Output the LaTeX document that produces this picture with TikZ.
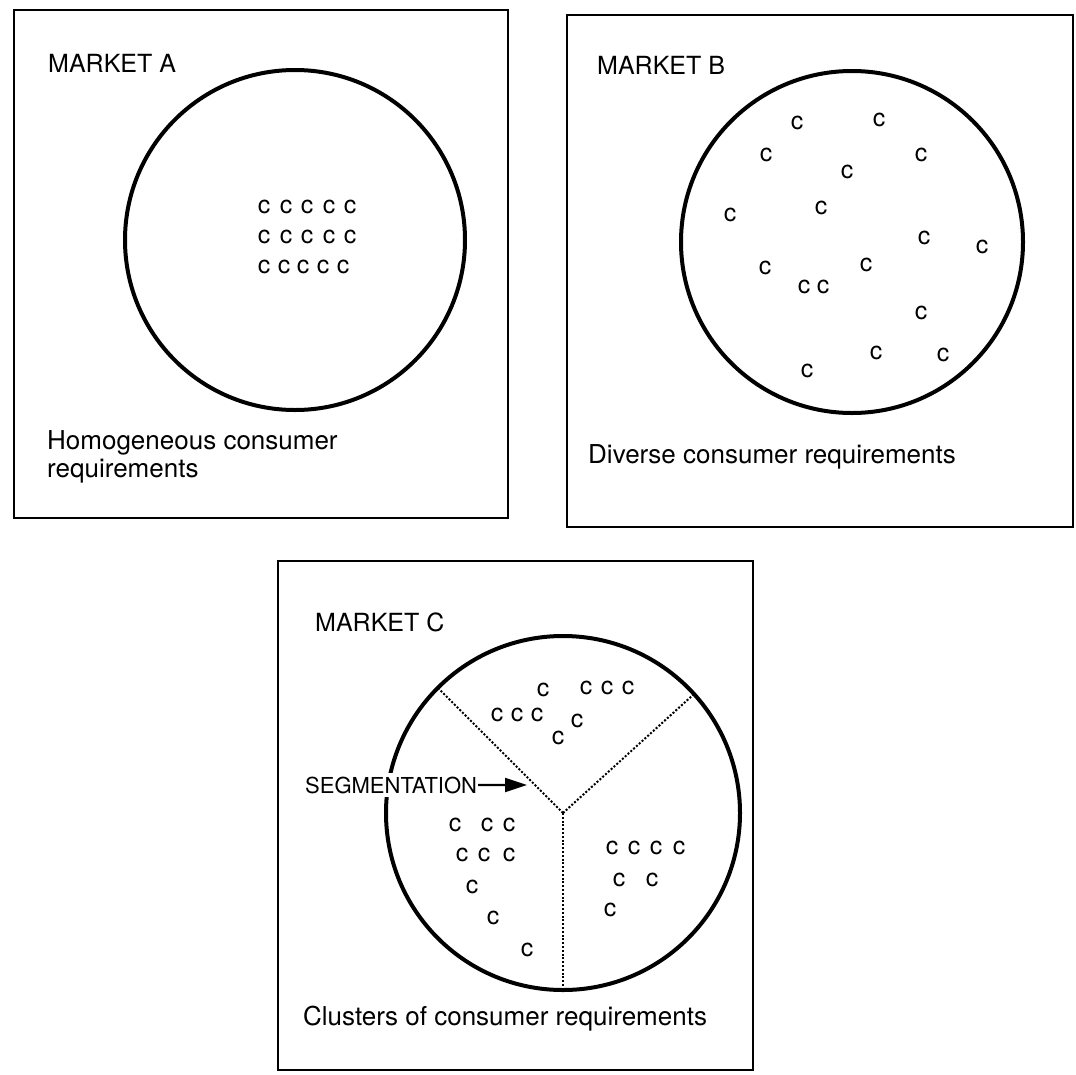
\documentclass[tikz,border=0pt]{standalone}
\usepackage{fontspec}
\setmainfont{TeX Gyre Heros}
\usetikzlibrary{arrows.meta}
\begin{document}
\begin{tikzpicture}[x=1pt,y=-1pt,
  frame/.style={draw=black,line width=2.4pt},
  ring/.style={draw=black,line width=4pt},
  segline/.style={draw=black,line width=2pt,dash pattern=on 2pt off 1.8pt},
  mtitle/.style={anchor=base west,inner sep=0,font=\fontsize{25}{28}\selectfont},
  desc/.style={anchor=base west,inner sep=0,font=\fontsize{26}{28}\selectfont},
  cc/.style={inner sep=0,font=\fontsize{25}{28}\selectfont},
]
\useasboundingbox (0,0) rectangle (1076,1074);
\fill[white] (0,0) rectangle (1076,1074);

% ---------- Market A ----------
\draw[frame] (14,10) rectangle (508,518);
\coordinate (cA) at (295,240);
\draw[ring] (cA) circle[radius=170pt];
\node[mtitle] (tA) at (48,72) {MARKET A};
\foreach \x/\y [count=\i] in {264/207,286/207,307/207,329/207,350/207,
  264/237,286/237,307/237,329/237,350/237,
  264/267,284/267,303/267,323/267,343/267}
  \node[cc] (a\i) at (\x,\y) {c};
\node[desc] (dA1) at (47,449) {Homogeneous consumer};
\node[desc] (dA2) at (47,477) {requirements};

% ---------- Market B ----------
\draw[frame] (567,15) rectangle (1073,527);
\coordinate (cB) at (852,242);
\draw[ring] (cB) circle[radius=171pt];
\node[mtitle] (tB) at (597,74) {MARKET B};
\foreach \x/\y [count=\i] in {797/123,879/120,766/155,921/155,847/172,
  730/215,821/208,924/238,982/247,765/268,866/265,804/287,823/287,
  921/313,876/353,943/355,807/371}
  \node[cc] (b\i) at (\x,\y) {c};
\node[desc] (dB) at (588,463) {Diverse consumer requirements};

% ---------- Market C ----------
\draw[frame] (278,561) rectangle (753,1070);
\coordinate (cC) at (563,813);
\draw[ring] (cC) circle[radius=177pt];
\node[mtitle] (tC) at (315,631) {MARKET C};
\coordinate (pL) at (438,688);
\coordinate (pR) at (694,694);
\coordinate (pB) at (563,990);
\draw[segline] (cC) -- (pL);
\draw[segline] (cC) -- (pR);
\draw[segline] (cC) -- (pB);
\foreach \x/\y [count=\i] in {543/690,586/688,607/688,628/688,
  497/715,517/715,537/715,577/721,558/738,
  455/825,487/825,509/825,462/855,484/855,509/855,472/887,493/918,527/950,
  612/848,634/848,656/848,679/848,619/880,652/880,610/910}
  \node[cc] (k\i) at (\x,\y) {c};
\node[anchor=base west,fill=white,inner xsep=1pt,inner ysep=4pt,font=\fontsize{22}{24}\selectfont] (seg) at (304,793) {SEGMENTATION};
\coordinate (segtip) at (527,785);
\draw[line width=2.2pt,-{Triangle[length=22pt,width=14pt]}] (seg.east) -- (segtip);
\node[desc] (dC) at (303,1025) {Clusters of consumer requirements};
\end{tikzpicture}
\end{document}
